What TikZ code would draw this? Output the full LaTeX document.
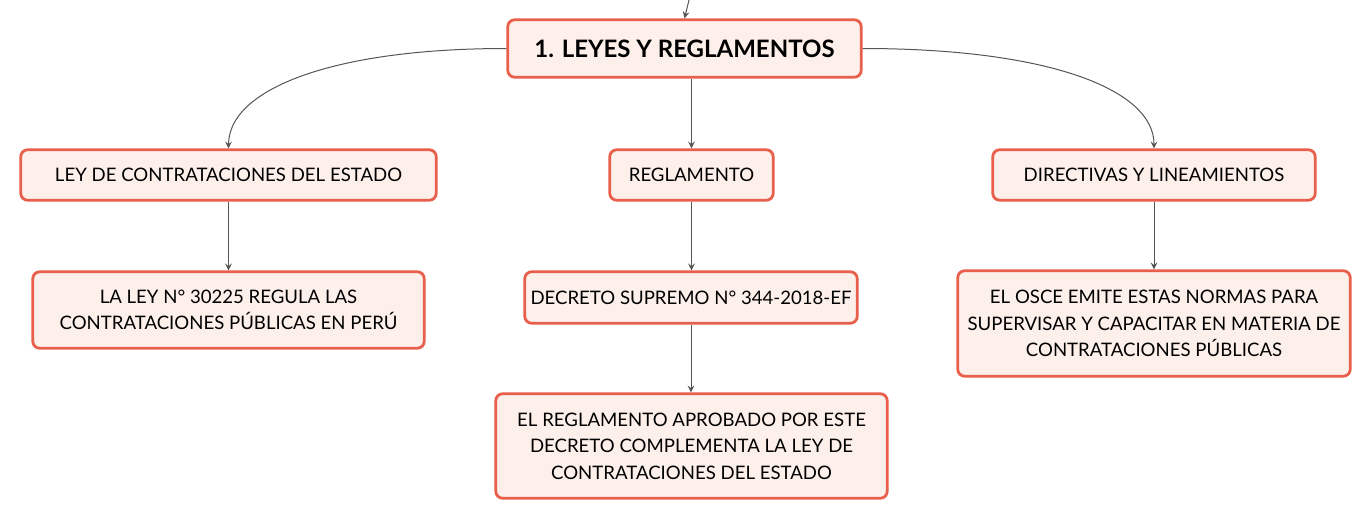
\documentclass[tikz,border=0pt]{standalone}
\usepackage{fontspec}
\setmainfont{Lato}
\usepackage{tikz}

\definecolor{boxred}{HTML}{E8604C}
\definecolor{boxfill}{HTML}{FDEFEA}
\definecolor{linegray}{HTML}{555555}

\begin{document}
\begin{tikzpicture}[x=0.5pt,y=-0.5pt,
    box/.style={draw=boxred, fill=boxfill, line width=1.4pt,
        rounded corners=3.5pt, align=center, inner sep=0pt,
        font=\fontsize{9.3}{13.3}\selectfont},
    link/.style={draw=linegray, line width=0.5pt, -stealth}]
\useasboundingbox (0,0) rectangle (1371,520);

        % Leyes
        \node [box,
            minimum width=176.75pt,
            minimum height=28.75pt,
            font=\bfseries\fontsize{12}{14}\selectfont,
        ] (leyes) at (684.5,48.5){1. LEYES Y REGLAMENTOS};

        % Ley
        \node [box,
            minimum width=207.75pt,
            minimum height=25.25pt,
        ] (ley) at (228.5,175){LEY DE CONTRATACIONES DEL ESTADO};

        % Reglamento
        \node [box,
            minimum width=81.75pt,
            minimum height=25.25pt,
        ] (reglamento) at (691.5,175){REGLAMENTO};

        % Directivas
        \node [box,
            minimum width=161.25pt,
            minimum height=25.25pt,
        ] (directivas) at (1154,175){DIRECTIVAS Y LINEAMIENTOS};

        % Ley 30225
        \node [box,
            minimum width=195.75pt,
            minimum height=38.25pt,
        ] (ley30225) at (228.5,310){LA LEY N° 30225 REGULA LAS\\CONTRATACIONES PÚBLICAS EN PERÚ};

        % Decreto
        \node [box,
            minimum width=166.25pt,
            minimum height=25.75pt,
        ] (decreto) at (691,297.5){DECRETO SUPREMO N° 344-2018-EF};

        % Reglamento aprobado
        \node [box,
            minimum width=195.75pt,
            minimum height=52.25pt,
        ] (aprobado) at (691.5,446){EL REGLAMENTO APROBADO POR ESTE\\DECRETO COMPLEMENTA LA LEY DE\\CONTRATACIONES DEL ESTADO};

        % OSCE
        \node [box,
            minimum width=196.25pt,
            minimum height=52.75pt,
        ] (osce) at (1154,323.5){EL OSCE EMITE ESTAS NORMAS PARA\\SUPERVISAR Y CAPACITAR EN MATERIA DE\\CONTRATACIONES PÚBLICAS};

        \coordinate (parent) at (689,0);
        \draw[link] (parent)--(leyes.north);
        \draw[link] (leyes.west) .. controls (330,48.5) and (229,90) .. (ley.north);
        \draw[link] (leyes.east) .. controls (1050,48.5) and (1154,90) .. (directivas.north);
        \draw[link] (reglamento.north |- leyes.south)--(reglamento.north);
        \draw[link] (ley.south)--(ley30225.north);
        \draw[link] (reglamento.south)--(decreto.north -| reglamento.south);
        \draw[link] (decreto.south)--(aprobado.north -| decreto.south);
        \draw[link] (directivas.south)--(osce.north);
\end{tikzpicture}
\end{document}
